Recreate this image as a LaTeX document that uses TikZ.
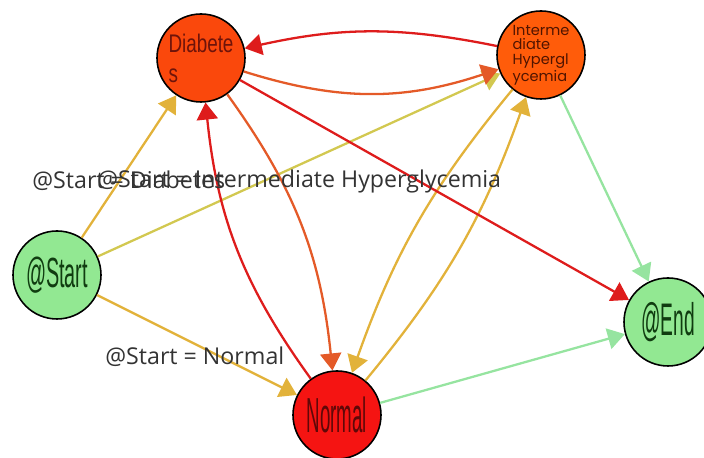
\documentclass[tikz,border=0pt]{standalone}
\usepackage{fontspec}
\usepackage{graphicx}
\setmainfont{Open Sans}
\newfontfamily\narrowfont{Liberation Sans}
\newfontfamily\roundfont{Poppins}
\usetikzlibrary{arrows.meta,positioning}
\definecolor{diafill}{RGB}{250,72,12}
\definecolor{ihgfill}{RGB}{255,92,10}
\definecolor{normfill}{RGB}{245,20,18}
\definecolor{termfill}{RGB}{146,232,146}
\definecolor{goldline}{RGB}{226,178,58}
\definecolor{oliveline}{RGB}{210,200,80}
\definecolor{redline}{RGB}{222,28,28}
\definecolor{orangeline}{RGB}{228,90,40}
\definecolor{greenline}{RGB}{150,228,160}
\newcommand{\squeeze}[2]{\scalebox{#1}[1]{#2}}

\begin{document}
\begin{tikzpicture}[
    state/.style={circle,draw=black,line width=0.9pt,minimum size=1.76cm,inner sep=0pt},
    link/.style={line width=1.3pt,-{Triangle[length=0.34cm,width=0.42cm]}},
    tag/.style={font=\fontsize{13.2}{15}\selectfont,text=black!80,inner sep=0pt,anchor=west}]
    \useasboundingbox (0,0) rectangle (14.08,9.16);

    % states
    \node[state,fill=diafill,align=left,text={rgb,255:red,110;green,20;blue,10},
          font=\narrowfont\fontsize{14.5}{17}\selectfont] (dia) at (4.02,8.0)
          {\squeeze{0.74}{Diabete}\\\squeeze{0.74}{s}};
    \node[state,fill=ihgfill,align=left,text={rgb,255:red,80;green,20;blue,0},
          font=\roundfont\fontsize{8.3}{8.4}\selectfont] (ihg) at (10.82,8.06)
          {Interme\\diate\\Hypergl\\ycemia};
    \node[state,fill=termfill,text={rgb,255:red,16;green,60;blue,16},
          font=\narrowfont\fontsize{24}{26}\selectfont] (start) at (1.14,3.66)
          {\squeeze{0.47}{@Start}};
    \node[state,fill=normfill,text={rgb,255:red,95;green,8;blue,8},
          font=\narrowfont\fontsize{28}{30}\selectfont] (normal) at (6.74,0.86)
          {\squeeze{0.38}{Normal}};
    \node[state,fill=termfill,text={rgb,255:red,16;green,60;blue,16},
          font=\narrowfont\fontsize{26}{28}\selectfont] (finish) at (13.36,2.72)
          {\squeeze{0.42}{@End}};

    % transitions
    \draw[link,goldline] (start) -- (dia);
    \draw[link,oliveline] (start) -- (ihg);
    \draw[link,goldline] (start) -- (normal);
    \draw[link,redline] (ihg) to[bend right=12] (dia);
    \draw[link,orangeline] (dia) to[bend right=18] (ihg);
    \draw[link,orangeline] (dia) to[bend left=15] (normal);
    \draw[link,redline] (normal) to[bend left=15] (dia);
    \draw[link,goldline] (ihg) to[bend right=10] (normal);
    \draw[link,goldline] (normal) to[bend right=10] (ihg);
    \draw[link,redline] (dia) -- (finish);
    \draw[link,greenline] (ihg) -- (finish);
    \draw[link,greenline] (normal) -- (finish);

    % labels
    \node[tag] (lbldia) at (0.64,5.54) {@Start = Diabetes};
    \node[tag] (lblihg) at (1.94,5.54) {@Start = Intermediate Hyperglycemia};
    \node[tag] (lblnorm) at (2.1,2.02) {@Start = Normal};
\end{tikzpicture}
\end{document}
